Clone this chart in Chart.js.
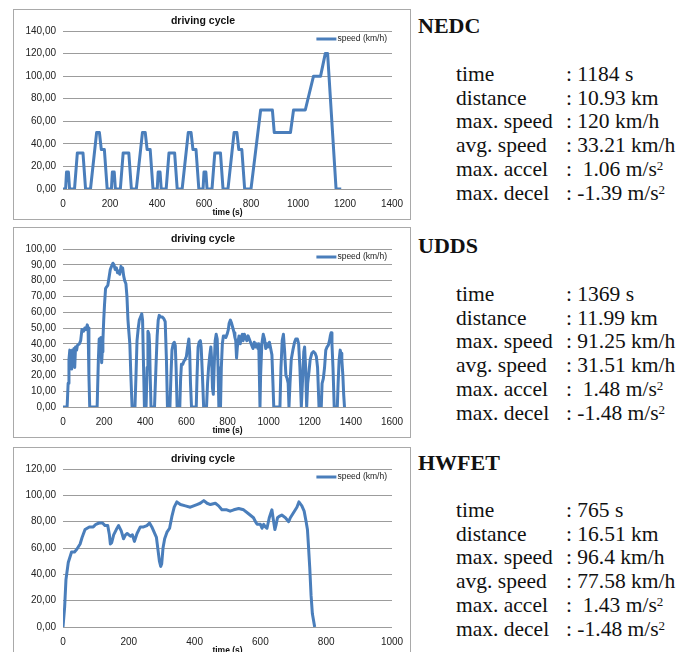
<!DOCTYPE html>
<html>
<head>
<meta charset="utf-8">
<script src="https://cdn.jsdelivr.net/npm/chart.js"></script>
<style>
  body { margin: 0; width: 693px; height: 652px; overflow: hidden; position: relative; background: #fff; }
  .box { position: absolute; left: 13px; width: 396px; height: 209px; border: 1px solid #a9a9a9; background: #fff; }
  .box canvas { display: block; }
  .head { position: absolute; left: 418px; font: bold 22px/26px "Liberation Serif", serif; color: #111; }
  .stats { position: absolute; left: 456px; font: 21.5px/23.7px "Liberation Serif", serif; color: #111; }
  .row { display: flex; white-space: pre; }
  .lbl { width: 110px; }
  sup { font-size: 13px; line-height: 0; vertical-align: baseline; position: relative; top: -6px; }
</style>
</head>
<body>
<div class="box" style="top:9px"><canvas id="nedcChart" width="396" height="209"></canvas></div>
<div class="box" style="top:227px"><canvas id="uddsChart" width="396" height="209"></canvas></div>
<div class="box" style="top:447px"><canvas id="hwfetChart" width="396" height="209"></canvas></div>

<div class="head" style="top:13px">NEDC</div>
<div class="stats" id="nedcStats" style="top:63px"></div>
<div class="head" style="top:233px">UDDS</div>
<div class="stats" id="uddsStats" style="top:283px"></div>
<div class="head" style="top:450px">HWFET</div>
<div class="stats" id="hwfetStats" style="top:499px"></div>

<script>
// NEDC: four urban ECE-15 blocks followed by the extra-urban part
const nedcTime = [
  0, 11, 15, 23, 28, 49, 61, 85, 96, 117, 143, 155, 163, 176, 188, 195,
  206, 210, 218, 223, 244, 256, 280, 291, 312, 338, 350, 358, 371, 383, 390,
  401, 405, 413, 418, 439, 451, 475, 486, 507, 533, 545, 553, 566, 578, 585,
  596, 600, 608, 613, 634, 646, 670, 681, 702, 728, 740, 748, 761, 773, 780,
  800, 841, 891, 899, 968, 981, 1031, 1066, 1096, 1116, 1126, 1162, 1184
];
const nedcSpeed = [
  0, 0, 15, 15, 0, 0, 32, 32, 0, 0, 50, 50, 35, 35, 0, 0,
  0, 15, 15, 0, 0, 32, 32, 0, 0, 50, 50, 35, 35, 0, 0,
  0, 15, 15, 0, 0, 32, 32, 0, 0, 50, 50, 35, 35, 0, 0,
  0, 15, 15, 0, 0, 32, 32, 0, 0, 50, 50, 35, 35, 0, 0,
  0, 70, 70, 50, 50, 70, 70, 100, 100, 120, 120, 0, 0
];

const uddsTime = [
  0, 20, 25, 29, 33, 36, 39, 42, 46, 50, 53, 57, 61, 66, 70, 80, 86, 92, 100, 106, 112, 118, 122, 126, 130,
  166, 172, 176, 180, 184, 188, 191, 194, 198, 202, 207, 212, 218, 224, 230, 236, 243, 248, 254, 260, 265,
  270, 276, 282, 286, 290, 295, 300, 306, 311, 316, 320, 325, 330, 336,
  350, 355, 360, 366, 371, 377, 383, 387, 391, 396,
  404, 409, 413, 418, 421, 424, 428,
  445, 452, 458, 463, 468, 475, 482, 490, 497, 503, 508,
  520, 525, 530, 536, 541, 546, 550, 555,
  568, 572, 576, 582, 588, 594, 600, 606, 612, 616, 620, 625,
  648, 652, 657, 662, 668, 672, 678, 684,
  698, 703, 708, 714, 719, 723, 727, 731, 735, 740, 745, 750, 754, 758,
  766, 770, 775, 780, 786, 792, 798, 804, 808, 814, 820, 826, 832, 836, 840, 844, 848, 852, 856, 862, 866,
  872, 876, 882, 888, 894, 900, 906, 912, 918, 924, 930, 936, 942, 948, 952, 955, 958,
  961, 967, 974, 980, 986, 992, 998, 1004, 1010, 1016, 1021, 1025,
  1055, 1060, 1066, 1072, 1078, 1084, 1090, 1095, 1099,
  1104, 1110, 1118, 1126, 1132, 1140, 1146, 1152, 1159,
  1166, 1171, 1175, 1180, 1185,
  1190, 1196, 1202, 1210, 1218, 1226, 1232, 1238, 1245,
  1256, 1260, 1266, 1272, 1278, 1284, 1290, 1296, 1300, 1304, 1308, 1313, 1319,
  1334, 1338, 1343, 1348, 1352, 1356, 1361, 1365, 1369
];
const uddsSpeed = [
  0, 0, 15, 30, 36, 26, 35, 24, 36, 28, 37, 25, 38, 36, 39, 40, 42, 49, 48, 50, 49, 52, 50, 20, 0,
  0, 30, 43, 40, 44, 28, 35, 42, 55, 65, 75, 76, 77, 82, 87, 89, 91, 90, 87, 88, 85,
  86, 84, 89, 86, 88, 83, 80, 78, 70, 55, 48, 40, 20, 0,
  0, 20, 42, 50, 55, 57, 59, 55, 30, 0,
  0, 25, 48, 46, 40, 20, 0,
  0, 25, 45, 55, 58, 57, 57, 56, 54, 30, 0,
  0, 20, 36, 40, 41, 39, 25, 0,
  0, 18, 27, 27, 29, 30, 32, 38, 43, 35, 15, 0,
  0, 20, 38, 41, 42, 38, 20, 0,
  0, 15, 25, 33, 38, 30, 12, 8, 25, 42, 46, 43, 25, 0,
  0, 25, 40, 45, 45, 44, 46, 49, 53, 55, 53, 50, 47, 44, 42, 31, 38, 42, 45, 40, 44,
  46, 42, 46, 44, 42, 45, 43, 41, 39, 37, 41, 38, 40, 37, 40, 20, 0,
  20, 40, 46, 43, 37, 40, 38, 41, 37, 33, 15, 0,
  0, 25, 42, 46, 35, 20, 18, 15, 0,
  15, 30, 36, 41, 43, 43, 40, 25, 0,
  20, 35, 38, 25, 0,
  15, 22, 30, 34, 35, 34, 32, 25, 0,
  0, 15, 18, 25, 36, 38, 39, 42, 45, 47, 40, 25, 0,
  0, 15, 30, 36, 34, 30, 20, 8, 0
];

const hwfetTime = [
  0, 5, 9, 16, 26, 35, 42, 52, 58, 67, 80, 92, 100, 110, 120, 128, 136, 141, 144, 148,
  154, 162, 169, 177, 184, 190, 195, 205, 211, 217, 225, 235, 245, 255, 263, 270, 277, 284,
  289, 293, 297, 300, 304, 309, 316, 324, 331, 338, 346, 357, 372, 387, 397, 407, 417, 428,
  438, 448, 463, 473, 483, 498, 508, 519, 534, 549, 564, 579, 585, 590, 600, 605, 610, 615,
  620, 627, 635, 639, 644, 648, 652, 657, 665, 676, 686, 691, 701, 711, 717, 726, 733, 739,
  743, 746, 750, 754, 758, 765
];
const hwfetSpeed = [
  0, 15, 36, 49, 57, 57, 59, 63, 68, 74, 76, 76, 78, 79, 79, 77, 77, 70, 63, 64,
  70, 74, 77, 73, 67, 70, 71, 69, 70, 65, 71, 76, 76, 77, 79, 76, 72, 68,
  58, 50, 46, 48, 60, 67, 72, 75, 84, 91, 95, 93, 92, 91, 92, 93, 94, 96,
  94, 93, 94, 92, 89, 89, 88, 89, 90, 89, 86, 83, 80, 78, 78, 75, 78, 76,
  75, 83, 89, 82, 74, 78, 83, 84, 85, 83, 80, 83, 87, 91, 95, 92, 88, 80,
  74, 62, 45, 24, 10, 0
];

const statLabels = ['time', 'distance', 'max. speed', 'avg. speed', 'max. accel', 'max. decel'];
const statUnits = ['s', 'km', 'km/h', 'km/h', 'm/s²', 'm/s²'];
const nedcStats = ['1184', '10.93', '120', '33.21', ' 1.06', '-1.39'];
const uddsStats = ['1369', '11.99', '91.25', '31.51', ' 1.48', '-1.48'];
const hwfetStats = ['765', '16.51', '96.4', '77.58', ' 1.43', '-1.48'];

const lineBlue = '#4a7ebb';
const gridGrey = '#9c9c9c';
const sansFamily = '"Liberation Sans", Arial, sans-serif';
const tickFont = { family: sansFamily, size: 10 };

// legend drawn inside the plot, top right, like the spreadsheet original
const insideLegend = {
  id: 'insideLegend',
  afterDraw(chart) {
    const { ctx, chartArea } = chart;
    const ds = chart.data.datasets[0];
    ctx.save();
    ctx.font = '8.5px ' + sansFamily;
    const textX = chartArea.right - 5 - ctx.measureText(ds.label).width;
    const y = chartArea.top + 8;
    ctx.strokeStyle = ds.borderColor;
    ctx.lineWidth = 3;
    ctx.beginPath();
    ctx.moveTo(textX - 21, y);
    ctx.lineTo(textX - 1, y);
    ctx.stroke();
    ctx.fillStyle = '#222';
    ctx.textBaseline = 'middle';
    ctx.fillText(ds.label, textX, y);
    ctx.restore();
  }
};

function drawCycle(canvasId, times, speeds, xMax, xStep, yMax, yStep) {
  new Chart(document.getElementById(canvasId), {
    type: 'line',
    data: {
      datasets: [{
        label: 'speed (km/h)',
        data: times.map((t, i) => ({ x: t, y: speeds[i] })),
        borderColor: lineBlue,
        backgroundColor: lineBlue,
        borderWidth: 3,
        borderJoinStyle: 'round',
        pointRadius: 0,
        tension: 0,
        fill: false
      }]
    },
    plugins: [insideLegend],
    options: {
      responsive: false,
      animation: false,
      events: [],
      layout: { padding: { left: 0, right: 18, top: 0, bottom: 0 } },
      plugins: {
        title: {
          display: true,
          text: 'driving cycle',
          color: '#111',
          font: { family: sansFamily, size: 10.5, weight: 'bold', lineHeight: 1.2 },
          padding: { top: 4.7, bottom: 3.7 }
        },
        legend: { display: false },
        tooltip: { enabled: false }
      },
      scales: {
        x: {
          type: 'linear',
          min: 0,
          max: xMax,
          ticks: { stepSize: xStep, color: '#222', font: tickFont, padding: 0, maxRotation: 0, callback: v => String(v) },
          grid: { display: false, drawTicks: true, tickLength: 9 },
          border: { display: false },
          title: {
            display: true,
            text: 'time (s)',
            color: '#111',
            font: { family: sansFamily, size: 8.5, weight: 'bold', lineHeight: 1.2 },
            padding: { top: 0, bottom: 1 }
          },
          afterFit: scale => { scale.height = 30; }
        },
        y: {
          min: 0,
          max: yMax,
          ticks: {
            stepSize: yStep,
            color: '#222',
            font: tickFont,
            padding: 7,
            callback: v => v.toFixed(2).replace('.', ',')
          },
          grid: { color: gridGrey, lineWidth: 1, drawTicks: false },
          border: { display: false },
          afterFit: scale => { scale.width = 49; }
        }
      }
    }
  });
}

function fillStats(id, values) {
  const el = document.getElementById(id);
  statLabels.forEach((label, i) => {
    const unit = statUnits[i].replace('²', '<sup>2</sup>');
    const row = document.createElement('div');
    row.className = 'row';
    row.innerHTML = '<span class="lbl">' + label + '</span><span>: ' + values[i] + ' ' + unit + '</span>';
    el.appendChild(row);
  });
}

drawCycle('nedcChart', nedcTime, nedcSpeed, 1400, 200, 140, 20);
drawCycle('uddsChart', uddsTime, uddsSpeed, 1600, 200, 100, 10);
drawCycle('hwfetChart', hwfetTime, hwfetSpeed, 1000, 200, 120, 20);

fillStats('nedcStats', nedcStats);
fillStats('uddsStats', uddsStats);
fillStats('hwfetStats', hwfetStats);
</script>
</body>
</html>
